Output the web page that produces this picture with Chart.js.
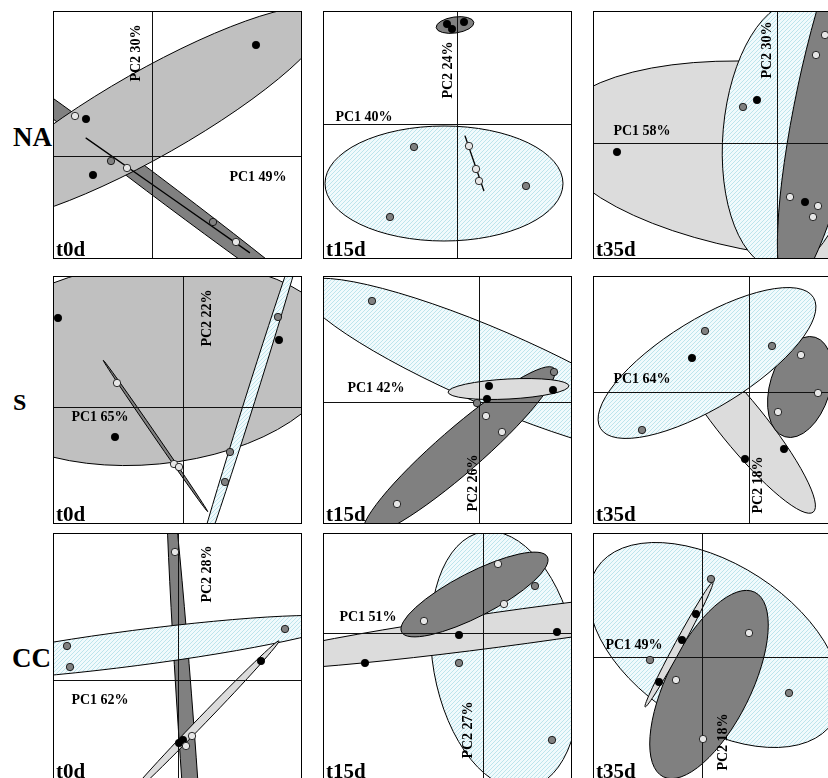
<!DOCTYPE html>
<html>
<head>
<meta charset="utf-8">
<script src="https://cdn.jsdelivr.net/npm/chart.js@4.4.1/dist/chart.umd.min.js"></script>
<style>
body{margin:0;background:#fff;width:828px;height:778px;overflow:hidden;position:relative;font-family:"Liberation Serif","Times New Roman",serif;}
.panel{position:absolute;width:249px;height:248px;}
.panel canvas{display:block;}
.row{position:absolute;font-weight:bold;line-height:1;white-space:nowrap;}
</style>
</head>
<body>
<div id="rows"></div>
<div id="grid"></div>
<script>
// panels go row by row: NA, S, CC x t0d, t15d, t35d
const rowNames = ['NA', 'S', 'CC'];
const timeNames = ['t0d', 't15d', 't35d'];
const pc1Text = ['PC1 49%', 'PC1 40%', 'PC1 58%', 'PC1 65%', 'PC1 42%', 'PC1 64%', 'PC1 62%', 'PC1 51%', 'PC1 49%'];
const pc2Text = ['PC2 30%', 'PC2 24%', 'PC2 30%', 'PC2 22%', 'PC2 26%', 'PC2 18%', 'PC2 28%', 'PC2 27%', 'PC2 18%'];

// visible window of each score plot
const xMin = [-99, -134, -184, -130, -156, -156, -125, -160, -109];
const xMax = [150, 115, 65, 119, 93, 93, 124, 89, 140];
const yMin = [-103, -135, -116, -117, -122, -132, -101, -148, -124];
const yMax = [145, 113, 132, 131, 126, 116, 147, 100, 124];

// scores of the samples, one list per group
const blackPts = [
  [[104, 111], [-66, 37], [-59, -19]],
  [[-10, 100], [-5, 95], [7, 102]],
  [[28, -59], [-20, 43], [-160, -9]],
  [[96, 67], [-68, -30], [-125, 89]],
  [[10, 16], [8, 3], [74, 12]],
  [[-57, 34], [35, -57], [-4, -67]],
  [[83, 19], [1, -63], [5, -60]],
  [[74, 1], [-118, -30], [-24, -2]],
  [[-6, 43], [-20, 17], [-43, -25]]
];
const grayPts = [
  [[-41, -5], [61, -66]],
  [[-43, -23], [-67, -93], [69, -62]],
  [[-34, 36]],
  [[95, 90], [47, -45], [42, -75]],
  [[-107, 101], [75, 30], [-2, -1]],
  [[-44, 61], [23, 46], [-107, -38]],
  [[107, 51], [-111, 34], [-108, 13]],
  [[52, 47], [-24, -30], [69, -107]],
  [[9, 78], [-52, -3], [87, -36]]
];
const lightPts = [
  [[-77, 40], [-25, -12], [84, -86]],
  [[12, -22], [19, -45], [22, -57]],
  [[48, 108], [39, 88], [13, -54], [41, -63], [36, -74]],
  [[-66, 24], [-9, -57], [-4, -60]],
  [[7, -14], [23, -30], [-82, -102]],
  [[52, 37], [69, -1], [29, -20]],
  [[-3, 128], [14, -56], [8, -66]],
  [[15, 69], [21, 29], [-59, 12]],
  [[47, 24], [-26, -23], [1, -82]]
];

// group ellipses: [centre x, centre y, semi-axis a, semi-axis b, angle deg]
const midEll = [[[-2, 42.4, 203, 43, 29.6]], [], [], [[-33, 43.6, 190, 101, 5.5]], [], [], [], [], []];
const lightEll = [[], [], [[23, -18, 250, 96, -7]], [], [[29.5, 13, 60.5, 10, 3]], [[-7.5, -31.5, 114, 23, -51]],
  [[24.6, -40, 110, 4, 46]], [[42, 7, 300, 17.5, 7.8]], [[-23, 12.5, 71, 4, 61.5]]];
const darkEll = [[[0, -27, 250, 9.5, -37]], [[-2, 99, 19, 8, 8]], [[53, 49, 200, 33, 78]], [[-27.5, -29, 92, 1.5, -55.4]],
  [[-20, -49, 126, 22, 41]], [[51, 5, 52, 30, 73]], [[12.5, -110, 330, 8, 94]], [[-8.5, 38.5, 82, 22, 27.3]], [[7, -27.5, 103, 42, 63.6]]];
const cyanEll = [[], [[-13, -59.5, 119, 57.5, 0]], [[13, 8, 135, 67, 85]], [[67, 7, 200, 5, 72.5]], [[13, 34.4, 208, 38, -23.3]],
  [[-42, 29, 125, 44, 31.6]], [[-43, 32, 213, 17.7, 7.4]], [[22, -27, 130, 72, 100]], [[13, 12, 141, 81, -33]]];
const lineEll = [[[16, -39.5, 100, 0, -35]], [[17.5, -39.5, 29, 0, -71]], [], [], [], [], [], [], []];

// layout
const colLeft = [53, 323, 593];
const rowTop = [11, 276, 533];
const layers = [
  ['dark', 'mid', 'line'], ['dark', 'cyan', 'line'], ['light', 'cyan', 'dark'],
  ['mid', 'cyan', 'dark'], ['cyan', 'dark', 'light'], ['light', 'dark', 'cyan'],
  ['dark', 'cyan', 'light'], ['cyan', 'light', 'dark'], ['cyan', 'dark', 'light']
];
const pc1Pos = [[205, 166], [41, 106], [49, 120], [47, 141], [53, 112], [49, 103], [47, 167], [45, 84], [41, 112]];
const pc2Pos = [[83, 42], [125, 59], [174, 39], [154, 42], [150, 207], [165, 209], [154, 41], [145, 197], [130, 209]];
const rowLabelPos = [[13, 124, 27], [13, 390, 24], [12, 645, 27]];

const serif = '"Liberation Serif","Times New Roman",serif';

function hatch() {
  const c = document.createElement('canvas');
  c.width = 4; c.height = 4;
  const g = c.getContext('2d');
  g.fillStyle = '#f1fafc';
  g.fillRect(0, 0, 4, 4);
  g.fillStyle = '#bde4ec';
  for (let i = 0; i < 4; i++) g.fillRect(i, 3 - i, 1, 1);
  return g.createPattern(c, 'repeat');
}

const ellSets = {mid: midEll, light: lightEll, dark: darkEll, cyan: cyanEll, line: lineEll};

function ellipsePath(ctx, xs, ys, e) {
  const [cx, cy, a, b, ang] = e;
  const px = xs.getPixelForValue(cx), py = ys.getPixelForValue(cy);
  const kx = xs.getPixelForValue(cx + 1) - px;
  const ky = ys.getPixelForValue(cy + 1) - py;
  ctx.save();
  ctx.translate(px, py);
  ctx.scale(kx, ky);
  ctx.rotate(ang * Math.PI / 180);
  ctx.beginPath();
  ctx.ellipse(0, 0, a, Math.max(b, 0.01), 0, 0, Math.PI * 2);
  ctx.restore();
}

const biplot = {
  id: 'biplot',
  beforeDatasetsDraw(chart, args, opts) {
    const {ctx, chartArea: ar, scales: {x, y}} = chart;
    const i = opts.idx;
    const fills = {mid: '#c0c0c0', light: '#dcdcdc', dark: '#808080', cyan: hatch(), line: null};
    ctx.save();
    ctx.beginPath();
    ctx.rect(ar.left, ar.top, ar.width, ar.height);
    ctx.clip();
    layers[i].forEach(kind => {
      ellSets[kind][i].forEach(e => {
        ellipsePath(ctx, x, y, e);
        if (fills[kind]) { ctx.fillStyle = fills[kind]; ctx.fill(); }
        ctx.strokeStyle = '#000';
        ctx.lineWidth = kind === 'line' ? 1.3 : 1;
        ctx.stroke();
      });
    });
    // axes through the origin
    const x0 = Math.round(x.getPixelForValue(0)) + 0.5;
    const y0 = Math.round(y.getPixelForValue(0)) + 0.5;
    ctx.strokeStyle = '#111';
    ctx.lineWidth = 1;
    ctx.beginPath();
    ctx.moveTo(x0, ar.top); ctx.lineTo(x0, ar.bottom);
    ctx.moveTo(ar.left, y0); ctx.lineTo(ar.right, y0);
    ctx.stroke();
    // labels
    ctx.fillStyle = '#000';
    ctx.font = 'bold 14px ' + serif;
    ctx.textAlign = 'center';
    ctx.textBaseline = 'middle';
    ctx.fillText(pc1Text[i], pc1Pos[i][0], pc1Pos[i][1]);
    ctx.save();
    ctx.translate(pc2Pos[i][0], pc2Pos[i][1]);
    ctx.rotate(-Math.PI / 2);
    ctx.fillText(pc2Text[i], 0, 0);
    ctx.restore();
    ctx.font = 'bold 21px ' + serif;
    ctx.textAlign = 'left';
    ctx.textBaseline = 'alphabetic';
    ctx.fillText(timeNames[i % 3], 3, 245);
    ctx.restore();
  },
  afterDraw(chart) {
    const {ctx, chartArea: ar} = chart;
    ctx.save();
    ctx.strokeStyle = '#000';
    ctx.lineWidth = 1;
    ctx.strokeRect(ar.left + 0.5, ar.top + 0.5, ar.width - 1, ar.height - 1);
    ctx.restore();
  }
};

const rowsDiv = document.getElementById('rows');
rowNames.forEach((r, k) => {
  const d = document.createElement('div');
  d.className = 'row';
  d.textContent = r;
  d.style.left = rowLabelPos[k][0] + 'px';
  d.style.top = rowLabelPos[k][1] + 'px';
  d.style.fontSize = rowLabelPos[k][2] + 'px';
  rowsDiv.appendChild(d);
});

const pts = list => list.map(p => ({x: p[0], y: p[1]}));
const grid = document.getElementById('grid');

for (let i = 0; i < 9; i++) {
  const wrap = document.createElement('div');
  wrap.className = 'panel';
  wrap.style.left = colLeft[i % 3] + 'px';
  wrap.style.top = rowTop[Math.floor(i / 3)] + 'px';
  const cv = document.createElement('canvas');
  cv.width = 249; cv.height = 248;
  wrap.appendChild(cv);
  grid.appendChild(wrap);

  const ds = (data, color) => ({
    data: pts(data), backgroundColor: color, borderColor: '#000',
    borderWidth: 0.8, pointRadius: 3.7, pointHoverRadius: 3.7, clip: 4
  });

  new Chart(cv, {
    type: 'scatter',
    data: {
      datasets: [ds(grayPts[i], '#808080'), ds(lightPts[i], '#e6e6e6'), ds(blackPts[i], '#000')]
    },
    options: {
      responsive: false,
      animation: false,
      events: [],
      layout: {padding: 0, autoPadding: false},
      plugins: {legend: {display: false}, tooltip: {enabled: false}, biplot: {idx: i}},
      scales: {
        x: {type: 'linear', min: xMin[i], max: xMax[i], display: false},
        y: {type: 'linear', min: yMin[i], max: yMax[i], display: false}
      }
    },
    plugins: [biplot]
  });
}
</script>
</body>
</html>
